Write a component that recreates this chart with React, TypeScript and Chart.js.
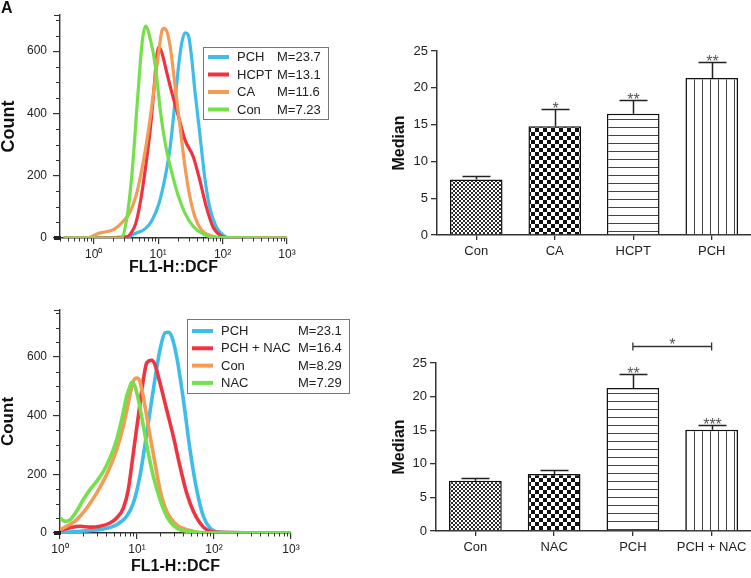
import React, { useEffect, useRef } from 'react';
import { Chart, registerables } from 'chart.js';

Chart.register(...registerables);

const FONT = '"Liberation Sans", Arial, Helvetica, sans-serif';

// ---------- Top histogram (FL1-H::DCF) ----------
const topLegendNames = ['PCH', 'HCPT', 'CA', 'Con'];
const topLegendMedians = ['23.7', '13.1', '11.6', '7.23'];

const topPchX = [0.342, 3.17, 4.5, 6.4, 8.09, 10.3, 12.9, 15.4, 18.4, 20.7, 23.2, 26.1, 29.4, 33.0, 37.1, 44.3, 52.7, 62.9, 79.6, 101, 135, 1000];
const topPchY = [0, 3, 15, 31, 58, 111, 197, 293, 443, 550, 625, 659, 651, 582, 475, 336, 197, 100, 36, 10, 0, 0];

const topHcptX = [0.342, 3.17, 3.78, 4.5, 5.37, 6.4, 7.62, 8.59, 9.66, 10.3, 11.5, 13.7, 16.4, 20.7, 26.1, 35.1, 44.3, 56.0, 70.8, 94.8, 135, 1000];
const topHcptY = [0, 3, 15, 47, 122, 229, 357, 475, 593, 614, 593, 529, 465, 390, 315, 261, 186, 100, 36, 7, 0, 0];

const topCaX = [0.342, 0.78, 1.24, 1.99, 2.82, 3.57, 4.5, 5.7, 7.21, 8.59, 10.3, 11.5, 12.2, 13.7, 15.4, 18.4, 21.9, 26.1, 31.1, 37.1, 47.0, 66.7, 94.8, 1000];
const topCaY = [0, 0, 16, 26, 52, 79, 133, 229, 357, 475, 603, 667, 673, 662, 614, 485, 357, 229, 133, 69, 26, 7, 0, 0];

const topConX = [0.342, 2.66, 3.36, 4.01, 4.78, 5.7, 6.4, 7.62, 9.1, 10.8, 12.9, 16.4, 20.7, 26.1, 35.1, 52.7, 84.4, 1000];
const topConY = [0, 0, 80, 228, 443, 635, 680, 635, 550, 411, 304, 208, 133, 80, 37, 10, 2, 0];

// ---------- Bottom histogram ----------
const botLegendNames = ['PCH', 'PCH + NAC', 'Con', 'NAC'];
const botLegendMedians = ['23.1', '16.4', '8.29', '7.29'];

const botPchX = [1.0, 2.01, 3.66, 5.44, 7.34, 8.96, 10.9, 13.4, 16.3, 19.9, 23.1, 25.5, 28.2, 32.7, 40.0, 48.8, 59.6, 72.7, 88.7, 120, 1000];
const botPchY = [2, 7, 14, 28, 57, 102, 193, 341, 489, 625, 682, 684, 670, 602, 455, 284, 148, 57, 17, 2, 0];

const botPchNacX = [1.0, 1.35, 1.82, 2.45, 3.31, 4.46, 5.44, 6.65, 7.71, 8.96, 10.4, 12.1, 13.4, 15.5, 17.1, 19.9, 24.3, 29.6, 36.2, 44.2, 53.9, 65.8, 80.3, 108, 1000];
const botPchNacY = [9, 18, 23, 20, 23, 34, 51, 85, 148, 273, 398, 523, 580, 589, 574, 511, 420, 330, 227, 136, 74, 34, 11, 2, 0];

const botConX = [1.0, 1.22, 1.64, 2.22, 2.99, 4.04, 5.44, 6.65, 7.71, 8.96, 9.91, 10.9, 12.7, 14.8, 17.1, 19.9, 24.3, 32.7, 48.8, 80.3, 1000];
const botConY = [11, 23, 45, 85, 136, 199, 284, 364, 443, 517, 528, 517, 432, 330, 239, 148, 74, 28, 9, 0, 0];

const botNacX = [1.0, 1.16, 1.35, 1.64, 2.01, 2.45, 2.99, 3.66, 4.46, 5.44, 6.32, 7.34, 8.11, 8.53, 9.42, 10.4, 12.1, 14.0, 16.3, 19.9, 24.3, 32.7, 48.8, 80.3, 1000];
const botNacY = [51, 40, 45, 74, 114, 148, 176, 210, 256, 318, 386, 466, 500, 514, 500, 455, 364, 273, 193, 114, 57, 17, 5, 0, 0];

// axis ticks
const decadeValues = [1, 10, 100, 1000];
const decadeLabels = ['10\u2070', '10\u00B9', '10\u00B2', '10\u00B3'];
const countTicks = [0, 200, 400, 600];

// ---------- Bar charts ----------
const barTopCats = ['Con', 'CA', 'HCPT', 'PCH'];
const barTopMeans = [7.55, 14.78, 16.46, 21.34];
const barTopErr = [0.45, 2.4, 1.9, 2.12];
const barTopStars = ['', '*', '**', '**'];

const barBotCats = ['Con', 'NAC', 'PCH', 'PCH + NAC'];
const barBotMeans = [7.49, 8.48, 21.28, 15.08];
const barBotErr = [0.4, 0.55, 2.13, 0.64];
const barBotStars = ['', '', '**', '***'];
const barBotBracketPair = ['PCH', 'PCH + NAC'];
const barBotBracketLevel = 27.5;
const barBotBracketLabel = '*';

// ---------- styles ----------
const BLUE = '#3DBDE8';
const RED = '#EE3440';
const ORANGE = '#F49B55';
const GREEN = '#74E04C';
const AXIS = '#333';

function makePattern(ctx: CanvasRenderingContext2D, kind: string) {
  const c = document.createElement('canvas');
  const g = c.getContext('2d')!;
  if (kind === 'fine') {
    c.width = 4; c.height = 4;
    g.fillStyle = '#fff'; g.fillRect(0, 0, 4, 4);
    g.fillStyle = '#2a2a2a'; g.fillRect(0, 0, 2, 2); g.fillRect(2, 2, 2, 2);
  } else if (kind === 'checker') {
    c.width = 8; c.height = 8;
    g.fillStyle = '#fff'; g.fillRect(0, 0, 8, 8);
    g.fillStyle = '#111'; g.fillRect(0, 0, 4, 4); g.fillRect(4, 4, 4, 4);
  } else if (kind === 'hlines') {
    c.width = 8; c.height = 8;
    g.fillStyle = '#fff'; g.fillRect(0, 0, 8, 8);
    g.fillStyle = '#444'; g.fillRect(0, 7, 8, 1);
  } else {
    c.width = 8; c.height = 8;
    g.fillStyle = '#fff'; g.fillRect(0, 0, 8, 8);
    g.fillStyle = '#444'; g.fillRect(7, 0, 1, 8);
  }
  return ctx.createPattern(c, 'repeat');
}

const histTicksPlugin = {
  id: 'histTicks',
  afterDraw(chart: any) {
    const { ctx, chartArea } = chart;
    const xs = chart.scales.x;
    const ys = chart.scales.y;
    ctx.save();
    ctx.strokeStyle = AXIS;
    ctx.lineWidth = 1;
    ctx.beginPath();
    for (const d of [0.1, 1, 10, 100]) {
      for (let m = 2; m <= 9; m++) {
        const v = m * d;
        if (v < xs.min || v > xs.max) continue;
        const px = Math.round(xs.getPixelForValue(v)) + 0.5;
        ctx.moveTo(px, chartArea.bottom);
        ctx.lineTo(px, chartArea.bottom + 3.5);
      }
    }
    for (let v = 50; v <= ys.max; v += 50) {
      if (v % 200 === 0) continue;
      const py = Math.round(ys.getPixelForValue(v)) + 0.5;
      ctx.moveTo(chartArea.left - 4, py);
      ctx.lineTo(chartArea.left, py);
    }
    const pt = Math.round(chartArea.top) + 0.5;
    ctx.moveTo(chartArea.left - 6, pt);
    ctx.lineTo(chartArea.left, pt);
    ctx.stroke();
    ctx.fillStyle = '#222';
    ctx.fillRect(chartArea.left - 6, chartArea.bottom - 2, 7, 4);
    ctx.restore();
  },
};

function legendPlugin(names: string[], medians: string[], colors: string[], box: any) {
  return {
    id: 'histLegend',
    afterDraw(chart: any) {
      const ctx = chart.ctx;
      ctx.save();
      ctx.fillStyle = '#fff';
      ctx.fillRect(box.x, box.y, box.w, box.h);
      ctx.strokeStyle = '#777';
      ctx.lineWidth = 1;
      ctx.strokeRect(box.x + 0.5, box.y + 0.5, box.w, box.h);
      ctx.font = `13px ${FONT}`;
      ctx.textBaseline = 'middle';
      ctx.textAlign = 'left';
      names.forEach((n, i) => {
        const y = box.row0 + i * box.step;
        ctx.strokeStyle = colors[i];
        ctx.lineWidth = 4;
        ctx.beginPath();
        ctx.moveTo(box.l0, y);
        ctx.lineTo(box.l1, y);
        ctx.stroke();
        ctx.fillStyle = '#222';
        ctx.fillText(n, box.nameX, y + 0.5);
        ctx.fillText('M=' + medians[i], box.valX, y + 0.5);
      });
      ctx.restore();
    },
  };
}

function histConfig(series: any[], o: any) {
  return {
    type: 'line',
    data: {
      datasets: series.map((s) => ({
        label: s.label,
        data: s.x.map((x: number, i: number) => ({ x, y: s.y[i] })),
        borderColor: s.color,
        borderWidth: o.lw,
        pointRadius: 0,
        cubicInterpolationMode: 'monotone',
        fill: false,
      })),
    },
    options: {
      responsive: false,
      animation: false,
      devicePixelRatio: 1,
      layout: { padding: o.padding },
      plugins: { legend: { display: false }, tooltip: { enabled: false } },
      scales: {
        x: {
          type: 'logarithmic',
          min: o.xMin,
          max: 1000,
          afterBuildTicks: (s: any) => {
            s.ticks = decadeValues.filter((v) => v >= o.xMin && v <= 1000).map((v) => ({ value: v, major: true }));
          },
          afterFit: (s: any) => { s.height = o.xH; },
          ticks: {
            autoSkip: false,
            maxRotation: 0,
            padding: 3,
            color: '#222',
            font: { family: FONT, size: 12 },
            callback: (v: number) => decadeLabels[Math.round(Math.log10(v))],
          },
          grid: { drawOnChartArea: false, tickLength: 6, color: AXIS, lineWidth: 1.2 },
          border: { color: AXIS, width: 1.4 },
          title: {
            display: true,
            text: 'FL1-H::DCF',
            color: '#111',
            font: { family: FONT, size: 16, weight: 'bold', lineHeight: 1 },
            padding: { top: 0, bottom: 0 },
          },
        },
        y: {
          type: 'linear',
          min: 0,
          max: o.yMax,
          afterBuildTicks: (s: any) => { s.ticks = countTicks.map((v) => ({ value: v })); },
          afterFit: (s: any) => { s.width = 60; },
          ticks: { padding: 6, color: '#222', font: { family: FONT, size: 12 } },
          grid: { drawOnChartArea: false, tickLength: 7, color: AXIS, lineWidth: 1.2 },
          border: { color: AXIS, width: 1.4 },
          title: {
            display: true,
            text: 'Count',
            color: '#111',
            font: { family: FONT, size: o.yTitleSize, weight: 'bold', lineHeight: 1 },
            padding: { top: 0, bottom: 0 },
          },
        },
      },
    },
    plugins: [histTicksPlugin, legendPlugin(o.legendNames, o.legendMedians, o.legendColors, o.box)],
  };
}

function errorBarPlugin(errs: number[], stars: string[]) {
  return {
    id: 'errBars',
    afterDatasetsDraw(chart: any) {
      const { ctx } = chart;
      const ys = chart.scales.y;
      const meta = chart.getDatasetMeta(0);
      const vals = chart.data.datasets[0].data;
      ctx.save();
      ctx.strokeStyle = '#222';
      ctx.lineWidth = 1.5;
      meta.data.forEach((bar: any, i: number) => {
        const x = Math.round(bar.x) + 0.5;
        const y0 = ys.getPixelForValue(vals[i]);
        const y1 = Math.round(ys.getPixelForValue(vals[i] + errs[i])) + 0.5;
        ctx.beginPath();
        ctx.moveTo(x, y0);
        ctx.lineTo(x, y1);
        ctx.moveTo(x - 14, y1);
        ctx.lineTo(x + 14, y1);
        ctx.stroke();
        if (stars[i]) {
          ctx.fillStyle = '#555';
          ctx.font = `16px ${FONT}`;
          ctx.textAlign = 'center';
          ctx.textBaseline = 'alphabetic';
          ctx.fillText(stars[i], x, y1 + 4);
        }
      });
      ctx.restore();
    },
  };
}

function bracketPlugin(cats: string[], pair: string[], level: number, label: string) {
  return {
    id: 'bracket',
    afterDatasetsDraw(chart: any) {
      const { ctx } = chart;
      const ys = chart.scales.y;
      const meta = chart.getDatasetMeta(0);
      const a = meta.data[cats.indexOf(pair[0])].x;
      const b = meta.data[cats.indexOf(pair[1])].x;
      const y = Math.round(ys.getPixelForValue(level)) + 0.5;
      ctx.save();
      ctx.strokeStyle = '#333';
      ctx.lineWidth = 1.3;
      ctx.beginPath();
      ctx.moveTo(a, y); ctx.lineTo(b, y);
      ctx.moveTo(a, y - 4); ctx.lineTo(a, y + 4);
      ctx.moveTo(b, y - 4); ctx.lineTo(b, y + 4);
      ctx.stroke();
      ctx.fillStyle = '#555';
      ctx.font = `16px ${FONT}`;
      ctx.textAlign = 'center';
      ctx.textBaseline = 'alphabetic';
      ctx.fillText(label, (a + b) / 2, y + 3);
      ctx.restore();
    },
  };
}

function barConfig(ctx: CanvasRenderingContext2D, cats: string[], means: number[], errs: number[], stars: string[], patterns: string[], o: any) {
  const plugins: any[] = [errorBarPlugin(errs, stars)];
  if (o.bracket) plugins.push(bracketPlugin(cats, barBotBracketPair, barBotBracketLevel, barBotBracketLabel));
  return {
    type: 'bar',
    data: {
      labels: cats,
      datasets: [{
        data: means,
        backgroundColor: patterns.map((p) => makePattern(ctx, p)),
        borderColor: '#111',
        borderWidth: 1.5,
        barPercentage: 0.67,
        categoryPercentage: 1,
      }],
    },
    options: {
      responsive: false,
      animation: false,
      devicePixelRatio: 1,
      layout: { padding: o.padding },
      plugins: { legend: { display: false }, tooltip: { enabled: false } },
      scales: {
        x: {
          afterFit: (s: any) => { s.height = o.xH; },
          ticks: { padding: 4, color: '#222', font: { family: FONT, size: 13 } },
          grid: { offset: false, drawOnChartArea: false, tickLength: 5, color: AXIS, lineWidth: 1.3 },
          border: { color: AXIS, width: 1.5 },
        },
        y: {
          min: 0,
          max: 25,
          afterFit: (s: any) => { s.width = o.yW; },
          ticks: { stepSize: 5, padding: 3, color: '#222', font: { family: FONT, size: 13 } },
          grid: { drawOnChartArea: false, tickLength: 6, color: AXIS, lineWidth: 1.3 },
          border: { color: AXIS, width: 1.5 },
          title: {
            display: true,
            text: 'Median',
            color: '#111',
            font: { family: FONT, size: 16, weight: 'bold', lineHeight: 1 },
            padding: { top: 17, bottom: 0 },
          },
        },
      },
    },
    plugins,
  };
}

function ChartBox({ left, top, width, height, make }: any) {
  const ref = useRef<HTMLCanvasElement>(null);
  useEffect(() => {
    const canvas = ref.current!;
    const ctx = canvas.getContext('2d')!;
    const chart = new Chart(canvas, make(ctx));
    return () => chart.destroy();
  }, []);
  return (
    <canvas
      ref={ref}
      width={width}
      height={height}
      style={{ position: 'absolute', left, top, width, height }}
    />
  );
}

export default function App() {
  const topHist = () =>
    histConfig(
      [
        { label: 'Con', x: topConX, y: topConY, color: GREEN },
        { label: 'CA', x: topCaX, y: topCaY, color: ORANGE },
        { label: 'HCPT', x: topHcptX, y: topHcptY, color: RED },
        { label: 'PCH', x: topPchX, y: topPchY, color: BLUE },
      ],
      {
        lw: 3.2,
        xMin: 0.342,
        yMax: 716,
        xH: 38,
        yTitleSize: 18,
        padding: { left: 0, top: 15, right: 88, bottom: 14 },
        legendNames: topLegendNames,
        legendMedians: topLegendMedians,
        legendColors: [BLUE, RED, ORANGE, GREEN],
        box: { x: 203, y: 47, w: 125, h: 72, row0: 57, step: 17.5, l0: 208, l1: 229, nameX: 237, valX: 277 },
      }
    );

  const botHist = () =>
    histConfig(
      [
        { label: 'NAC', x: botNacX, y: botNacY, color: GREEN },
        { label: 'Con', x: botConX, y: botConY, color: ORANGE },
        { label: 'PCH + NAC', x: botPchNacX, y: botPchNacY, color: RED },
        { label: 'PCH', x: botPchX, y: botPchY, color: BLUE },
      ],
      {
        lw: 3.6,
        xMin: 1,
        yMax: 760,
        xH: 42,
        yTitleSize: 17,
        padding: { left: 0, top: 20, right: 84, bottom: 3 },
        legendNames: botLegendNames,
        legendMedians: botLegendMedians,
        legendColors: [BLUE, RED, ORANGE, GREEN],
        box: { x: 187, y: 29, w: 162, h: 74, row0: 41, step: 17.3, l0: 192, l1: 213, nameX: 221, valX: 298 },
      }
    );

  const topBar = (ctx: CanvasRenderingContext2D) =>
    barConfig(ctx, barTopCats, barTopMeans, barTopErr, barTopStars, ['fine', 'checker', 'hlines', 'vlines'], {
      padding: { left: 0, top: 51, right: 0, bottom: 0 },
      xH: 55,
      yW: 62,
    });

  const botBar = (ctx: CanvasRenderingContext2D) =>
    barConfig(ctx, barBotCats, barBotMeans, barBotErr, barBotStars, ['fine', 'checker', 'hlines', 'vlines'], {
      padding: { left: 0, top: 73, right: 0, bottom: 0 },
      xH: 47,
      yW: 61,
      bracket: true,
    });

  return (
    <div style={{ position: 'absolute', left: 0, top: 0, width: 751, height: 578, background: '#fff', overflow: 'hidden' }}>
      <ChartBox left={0} top={0} width={375} height={290} make={topHist} />
      <ChartBox left={375} top={0} width={376} height={290} make={topBar} />
      <ChartBox left={0} top={290} width={375} height={288} make={botHist} />
      <ChartBox left={375} top={290} width={376} height={288} make={botBar} />
      <div style={{ position: 'absolute', left: 1, top: -1, font: `bold 16px ${FONT}`, color: '#111' }}>A</div>
    </div>
  );
}
